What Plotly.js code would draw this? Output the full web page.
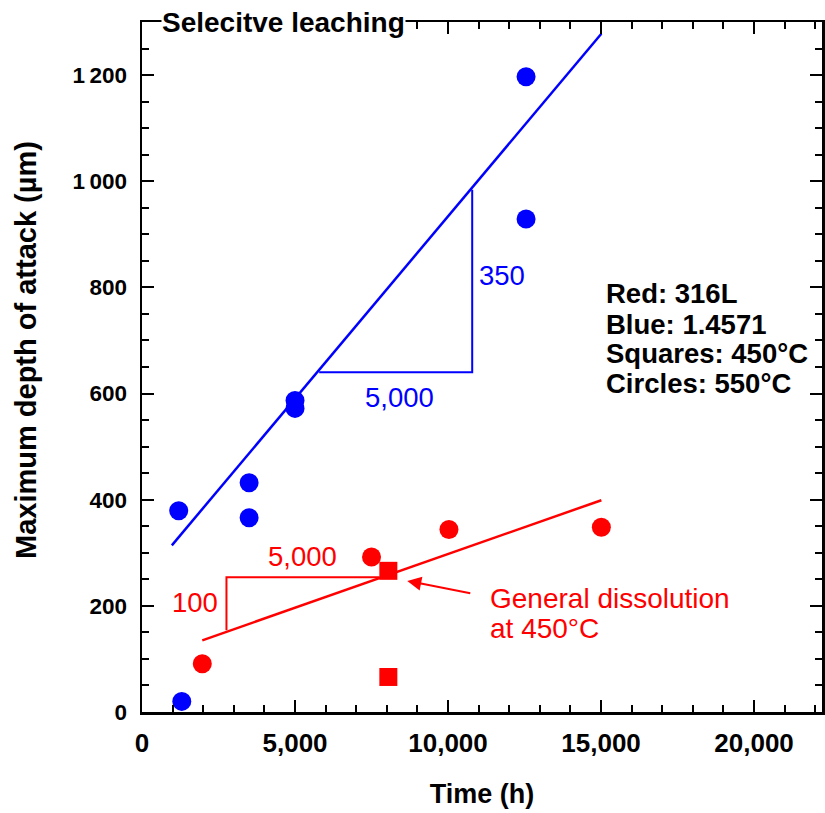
<!DOCTYPE html>
<html><head><meta charset="utf-8">
<script src="https://cdn.plot.ly/plotly-3.0.1.min.js"></script>
<style>html,body{margin:0;padding:0;background:#fff;} #chart{width:825px;height:813px;}</style>
</head><body><div id="chart"></div>
<script>
// ---- data ----
const blueCircleX = [1200, 1300, 3500, 3500, 5000, 5000, 12550, 12550];
const blueCircleY = [379, 20, 432, 366, 587, 572, 1197, 929];
const redCircleX = [1970, 7500, 10030, 15010];
const redCircleY = [91, 292, 344, 348];
const redSquareX = [8050, 8050];
const redSquareY = [266, 66];
const blueFitX = [975, 15010];
const blueFitY = [314, 1278];
const redFitX = [1970, 15010];
const redFitY = [135, 399];
const blueTriX = [5790, 10790, 10790];
const blueTriY = [640, 640, 984];
const redTriX = [2760, 2760, 7760];
const redTriY = [154, 254, 254];
const xTickVals = [0, 5000, 10000, 15000, 20000];
const xTickText = ['0', '5,000', '10,000', '15,000', '20,000'];
const yTickVals = [0, 200, 400, 600, 800, 1000, 1200];
const yTickText = ['0', '200', '400', '600', '800', '1\u2009000', '1\u2009200'];
const keyLines = ['Red: 316L', 'Blue: 1.4571', 'Squares: 450°C', 'Circles: 550°C'];
const keyX = 15110;
const keyY = [788, 731, 675, 618];
const blueLabels = ['350', '5,000'];
const blueLabelX = [10950, 8406];
const blueLabelY = [822, 593];
const redLabels = ['100', '5,000'];
const redLabelX = [1718, 5237];
const redLabelY = [207, 293];
const noteLines = ['General dissolution', 'at 450°C'];
const noteX = 11290;
const noteY = [214, 158];
const arrowTip = [8668, 247];
const arrowTail = [10776, 223];

const BLUE = '#0000ff', RED = '#ff0000';
const FF = 'Liberation Sans, Arial, sans-serif';

const traces = [
  {x: blueFitX, y: blueFitY, mode: 'lines', line: {color: BLUE, width: 2.5}},
  {x: redFitX, y: redFitY, mode: 'lines', line: {color: RED, width: 2.5}},
  {x: blueTriX, y: blueTriY, mode: 'lines', line: {color: BLUE, width: 2}},
  {x: redTriX, y: redTriY, mode: 'lines', line: {color: RED, width: 2}},
  {x: blueCircleX, y: blueCircleY, mode: 'markers', marker: {symbol: 'circle', size: 19, color: BLUE}},
  {x: redCircleX, y: redCircleY, mode: 'markers', marker: {symbol: 'circle', size: 19, color: RED}},
  {x: redSquareX, y: redSquareY, mode: 'markers', marker: {symbol: 'square', size: 18, color: RED}}
];

const annotations = [];
annotations.push({xref: 'paper', yref: 'paper', x: 0.208, y: 1, xanchor: 'center', yanchor: 'middle',
  text: 'Selecitve leaching', showarrow: false, bgcolor: '#ffffff', borderpad: 0,
  font: {family: FF, size: 28, weight: 'bold', color: '#000'}});
annotations.push({xref: 'paper', yref: 'paper', x: -0.1706, y: 0.5246, xanchor: 'center', yanchor: 'middle',
  textangle: -90, text: 'Maximum depth of attack (µm)', showarrow: false,
  font: {family: FF, size: 29, weight: 'bold', color: '#000'}});
keyLines.forEach((t, i) => annotations.push({x: keyX, y: keyY[i], xanchor: 'left', yanchor: 'middle',
  text: t, showarrow: false, font: {family: FF, size: 27.5, weight: 'bold', color: '#000'}}));
annotations.push({x: blueLabelX[0], y: blueLabelY[0], xanchor: 'left', yanchor: 'middle', text: blueLabels[0],
  showarrow: false, font: {family: FF, size: 27.5, color: BLUE}});
annotations.push({x: blueLabelX[1], y: blueLabelY[1], xanchor: 'center', yanchor: 'middle', text: blueLabels[1],
  showarrow: false, font: {family: FF, size: 27.5, color: BLUE}});
redLabels.forEach((t, i) => annotations.push({x: redLabelX[i], y: redLabelY[i], xanchor: 'center', yanchor: 'middle',
  text: t, showarrow: false, font: {family: FF, size: 27.5, color: RED}}));
noteLines.forEach((t, i) => annotations.push({x: noteX, y: noteY[i], xanchor: 'left', yanchor: 'middle',
  text: t, showarrow: false, font: {family: FF, size: 28, color: RED}}));
annotations.push({x: arrowTip[0], y: arrowTip[1], ax: arrowTail[0], ay: arrowTail[1], axref: 'x', ayref: 'y',
  text: '', showarrow: true, arrowhead: 2, arrowsize: 1.4, arrowwidth: 2, arrowcolor: RED, standoff: 0});

const axisCommon = {
  showline: true, linecolor: '#000', linewidth: 2.5, mirror: 'allticks',
  ticks: 'inside', ticklen: 12, tickwidth: 2, tickcolor: '#000',
  showgrid: false, zeroline: false, tickmode: 'array'
};

const layout = {
  width: 825, height: 813,
  margin: {l: 142, r: 3, t: 22, b: 101},
  paper_bgcolor: '#fff', plot_bgcolor: '#fff',
  showlegend: false,
  font: {family: FF, color: '#000'},
  xaxis: Object.assign({}, axisCommon, {
    range: [0, 22220], tickvals: xTickVals, ticktext: xTickText, ticklabelstandoff: 6,
    tickfont: {family: FF, size: 26, weight: 'bold', color: '#000'},
    minor: {tick0: 0, dtick: 1000, ticks: 'inside', ticklen: 7, tickwidth: 2, tickcolor: '#000', showgrid: false},
    title: {text: 'Time (h)', font: {family: FF, size: 27, weight: 'bold', color: '#000'}, standoff: 28}
  }),
  yaxis: Object.assign({}, axisCommon, {
    range: [0, 1300], tickvals: yTickVals, ticktext: yTickText, ticklabelstandoff: 8,
    tickfont: {family: FF, size: 22.5, weight: 'bold', color: '#000'},
    minor: {tick0: 0, dtick: 50, ticks: 'inside', ticklen: 7, tickwidth: 2, tickcolor: '#000', showgrid: false}
  }),
  annotations: annotations
};

Plotly.newPlot('chart', traces, layout, {displayModeBar: false, staticPlot: true});
</script>
</body></html>
